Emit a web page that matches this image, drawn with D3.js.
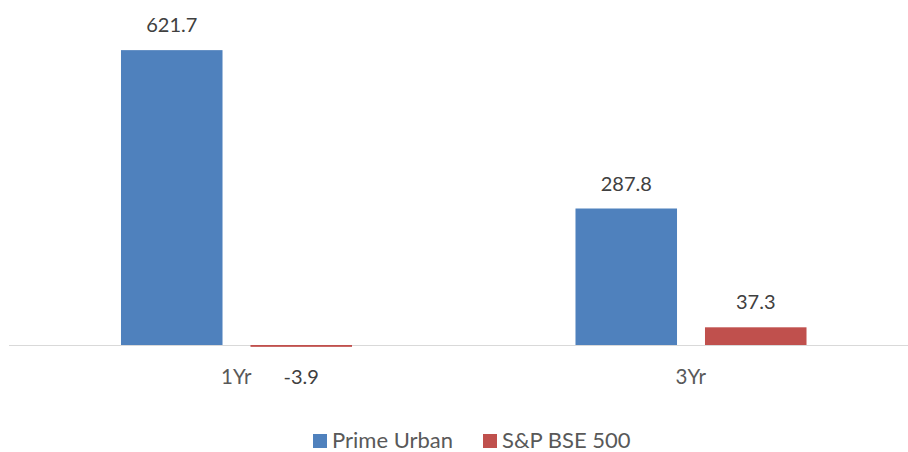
<!DOCTYPE html>
<html lang="en">
  <head>
    <meta charset="utf-8" />
    <title>Prime Urban vs S&amp;P BSE 500</title>
    <script src="https://cdn.jsdelivr.net/npm/d3@7"></script>
    <style>
      body { margin: 0; background: #fff; }
      text { font-family: Lato, "Open Sans", sans-serif; }
    </style>
  </head>
  <body>
    <div id="root"></div>

    <script type="text/javascript">
      // data
      const periods = ["1Yr", "3Yr"];
      const seriesNames = ["Prime Urban", "S&P BSE 500"];
      const primeUrban = [621.7, 287.8];
      const bse500 = [-3.9, 37.3];
      const colors = ["#4F81BD", "#C0504D"];

      const rows = periods.map((p, i) => ({
        period: p,
        values: [primeUrban[i], bse500[i]],
      }));

      // chart size
      const width = 908;
      const height = 452;
      const baseY = 345;

      const svg = d3
        .select("#root")
        .append("svg")
        .attr("width", width)
        .attr("height", height);

      // scales
      const x0 = d3.scaleBand().domain(periods).range([9, 918]);
      const bw = x0.bandwidth();
      const x1 = d3
        .scaleBand()
        .domain(d3.range(seriesNames.length))
        .range([bw * 0.2464, bw * 0.7547])
        .paddingInner(0.216);

      const y = d3.scaleLinear().domain([0, 700]).range([baseY, 13]);

      // category axis line
      svg
        .append("line")
        .attr("x1", 9)
        .attr("x2", width)
        .attr("y1", y(0) + 0.5)
        .attr("y2", y(0) + 0.5)
        .attr("stroke", "#D9D9D9")
        .attr("stroke-width", 1);

      // bars
      const groups = svg
        .selectAll("g.grp")
        .data(rows)
        .enter()
        .append("g")
        .attr("class", "grp")
        .attr("transform", (d) => `translate(${x0(d.period)},0)`);

      groups
        .selectAll("rect")
        .data((d) => d.values.map((v, i) => ({ v, i })))
        .enter()
        .append("rect")
        .attr("x", (d) => x1(d.i))
        .attr("width", x1.bandwidth())
        .attr("y", (d) => y(Math.max(0, d.v)))
        .attr("height", (d) => Math.abs(y(d.v) - y(0)))
        .attr("fill", (d) => colors[d.i]);

      // value labels
      groups
        .selectAll("text.val")
        .data((d) => d.values.map((v, i) => ({ v, i })))
        .enter()
        .append("text")
        .attr("class", "val")
        .attr("x", (d) => x1(d.i) + x1.bandwidth() / 2)
        .attr("y", (d) => (d.v >= 0 ? y(d.v) - 18 : 384))
        .attr("text-anchor", "middle")
        .attr("font-size", 20)
        .attr("fill", "#404040")
        .text((d) => d.v.toFixed(1));

      // category labels
      svg
        .selectAll("text.cat")
        .data(periods)
        .enter()
        .append("text")
        .attr("class", "cat")
        .attr("x", (d) => x0(d) + bw / 2)
        .attr("y", 384)
        .attr("text-anchor", "middle")
        .attr("font-size", 20.5)
        .attr("fill", "#595959")
        .text((d) => d);

      // legend
      const legendX = [313, 483];
      const legend = svg
        .selectAll("g.leg")
        .data(seriesNames)
        .enter()
        .append("g")
        .attr("class", "leg")
        .attr("transform", (d, i) => `translate(${legendX[i]},434)`);

      legend
        .append("rect")
        .attr("width", 14)
        .attr("height", 14)
        .attr("fill", (d, i) => colors[i]);

      legend
        .append("text")
        .attr("x", 19)
        .attr("y", 14)
        .attr("font-size", 22)
        .attr("fill", "#595959")
        .text((d) => d);
    </script>
  </body>
</html>
